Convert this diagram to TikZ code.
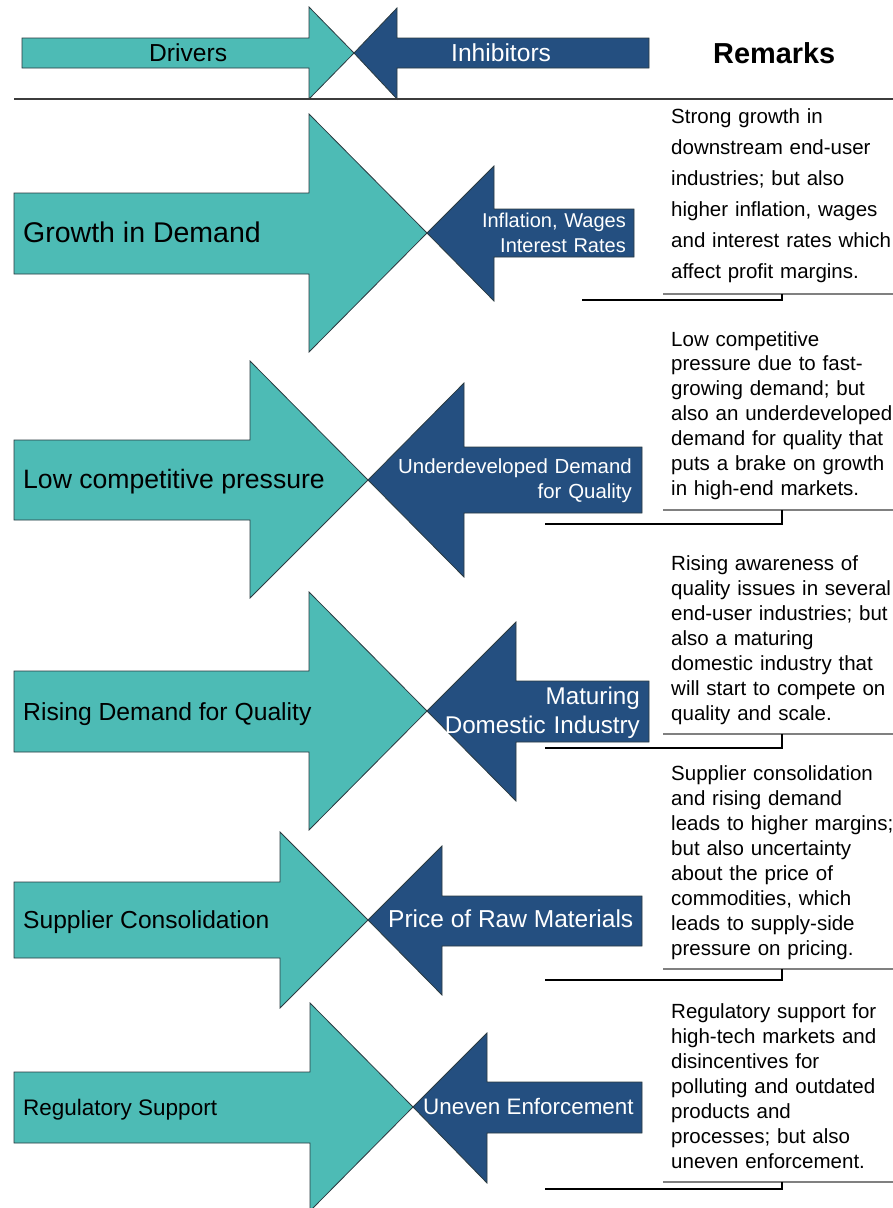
\documentclass[tikz,border=0pt]{standalone}
\usepackage{fontspec}
\setmainfont{Liberation Sans}
\definecolor{teal1}{HTML}{4DBBB5}
\definecolor{navy1}{HTML}{244F80}
\definecolor{edge1}{HTML}{2A3A40}
\definecolor{rule1}{HTML}{3C3C3C}
\definecolor{gray1}{HTML}{808080}
\begin{document}
\begin{tikzpicture}[x=1pt,y=-1pt,
  drv/.style={fill=teal1,draw=edge1,line width=0.8pt,line join=miter},
  inh/.style={fill=navy1,draw=edge1,line width=0.8pt,line join=miter},
  dtxt/.style={anchor=base west,inner sep=0pt,text=black},
  itxt/.style={anchor=base east,inner sep=0pt,text=white,align=right,text width=240pt},
  rem/.style={anchor=base west,inner sep=0pt,text=black,align=left,text width=240pt},
  hrule/.style={draw=rule1,line width=1.6pt},
  grayln/.style={draw=gray1,line width=1.3pt},
  blkln/.style={draw=black,line width=1.1pt},
]
\useasboundingbox (0,0) rectangle (893,1208);
\fill[white] (0,0) rectangle (893,1208);

% ---------- header ----------
\draw[drv] (22,38) -- (309,38) -- (309,7) -- (354,53) -- (309,99) -- (309,68) -- (22,68) -- cycle;
\draw[inh] (649,38) -- (397,38) -- (397,8) -- (354,53) -- (397,99) -- (397,68) -- (649,68) -- cycle;
\node[dtxt,font=\fontsize{24.6}{26}\selectfont] (hdrv) at (149,61) {Drivers};
\node[dtxt,text=white,font=\fontsize{24.6}{26}\selectfont] (hinh) at (451,61) {Inhibitors};
\node[dtxt,font=\fontsize{28.9}{30}\selectfont\bfseries] (hrem) at (713,63) {Remarks};
\coordinate (hl1) at (14,99);
\coordinate (hl2) at (893,99);
\draw[hrule] (hl1) -- (hl2);

% ---------- row 1 ----------
\draw[drv] (14,193) -- (309,193) -- (309,114) -- (427,233) -- (309,352) -- (309,274) -- (14,274) -- cycle;
\draw[inh] (634,209) -- (494,209) -- (494,166) -- (427,233) -- (494,301) -- (494,257) -- (634,257) -- cycle;
\node[dtxt,font=\fontsize{28.5}{30}\selectfont] (d1) at (23,242) {Growth in Demand};
\node[itxt,font=\fontsize{20}{25}\selectfont] (i1) at (626,227) {Inflation, Wages\\Interest Rates};
\node[rem,font=\fontsize{20.5}{31}\selectfont] (r1) at (671,123) {Strong growth in\\downstream end-user\\industries; but also\\higher inflation, wages\\and interest rates which\\affect profit margins.};
\draw[grayln] (663,294) -- (893,294);
\draw[blkln] (582,300) -- (782,300) -- (782,294);

% ---------- row 2 ----------
\draw[drv] (14,440) -- (250,440) -- (250,361) -- (368,480) -- (250,598) -- (250,520) -- (14,520) -- cycle;
\draw[inh] (642,447) -- (464,447) -- (464,383) -- (368,480) -- (464,577) -- (464,513) -- (642,513) -- cycle;
\node[dtxt,font=\fontsize{26.6}{28}\selectfont] (d2) at (23,488) {Low competitive pressure};
\node[itxt,font=\fontsize{20.4}{25}\selectfont] (i2) at (632,473) {Underdeveloped Demand\\for Quality};
\node[rem,font=\fontsize{20.5}{24.9}\selectfont] (r2) at (671,346) {Low competitive\\pressure due to fast-\\growing demand; but\\also an underdeveloped\\demand for quality that\\puts a brake on growth\\in high-end markets.};
\draw[grayln] (663,510) -- (893,510);
\draw[blkln] (545,524) -- (782,524) -- (782,510);

% ---------- row 3 ----------
\draw[drv] (14,671) -- (309,671) -- (309,592) -- (427,711) -- (309,830) -- (309,752) -- (14,752) -- cycle;
\draw[inh] (649,681) -- (516,681) -- (516,622) -- (427,711) -- (516,801) -- (516,742) -- (649,742) -- cycle;
\node[dtxt,font=\fontsize{24.7}{26}\selectfont] (d3) at (23,720) {Rising Demand for Quality};
\node[itxt,font=\fontsize{24.2}{29}\selectfont] (i3) at (640,704) {Maturing\\Domestic Industry};
\node[rem,font=\fontsize{20.5}{25}\selectfont] (r3) at (671,570) {Rising awareness of\\quality issues in several\\end-user industries; but\\also a maturing\\domestic industry that\\will start to compete on\\quality and scale.};
\draw[grayln] (663,734) -- (893,734);
\draw[blkln] (545,748) -- (782,748) -- (782,734);

% ---------- row 4 ----------
\draw[drv] (14,882) -- (280,882) -- (280,832) -- (368,920) -- (280,1008) -- (280,958) -- (14,958) -- cycle;
\draw[inh] (642,896) -- (442,896) -- (442,846) -- (368,920) -- (442,995) -- (442,946) -- (642,946) -- cycle;
\node[dtxt,font=\fontsize{24.6}{26}\selectfont] (d4) at (23,928) {Supplier Consolidation};
\node[dtxt,text=white,font=\fontsize{24.5}{26}\selectfont] (i4) at (388,927) {Price of Raw Materials};
\node[rem,font=\fontsize{20.5}{25}\selectfont] (r4) at (671,780) {Supplier consolidation\\and rising demand\\leads to higher margins;\\but also uncertainty\\about the price of\\commodities, which\\leads to supply-side\\pressure on pricing.};
\draw[grayln] (663,969) -- (893,969);
\draw[blkln] (545,980) -- (782,980) -- (782,969);

% ---------- row 5 ----------
\draw[drv] (14,1072) -- (310,1072) -- (310,1003) -- (413,1107) -- (310,1211) -- (310,1143) -- (14,1143) -- cycle;
\draw[inh] (642,1082) -- (487,1082) -- (487,1033) -- (413,1107) -- (487,1183) -- (487,1133) -- (642,1133) -- cycle;
\node[dtxt,font=\fontsize{22.5}{24}\selectfont] (d5) at (23,1115) {Regulatory Support};
\node[dtxt,text=white,font=\fontsize{22.4}{24}\selectfont] (i5) at (423,1114) {Uneven Enforcement};
\node[rem,font=\fontsize{20.5}{25}\selectfont] (r5) at (671,1018) {Regulatory support for\\high-tech markets and\\disincentives for\\polluting and outdated\\products and\\processes; but also\\uneven enforcement.};
\draw[grayln] (663,1182) -- (893,1182);
\draw[blkln] (545,1189) -- (782,1189) -- (782,1182);
\end{tikzpicture}
\end{document}
